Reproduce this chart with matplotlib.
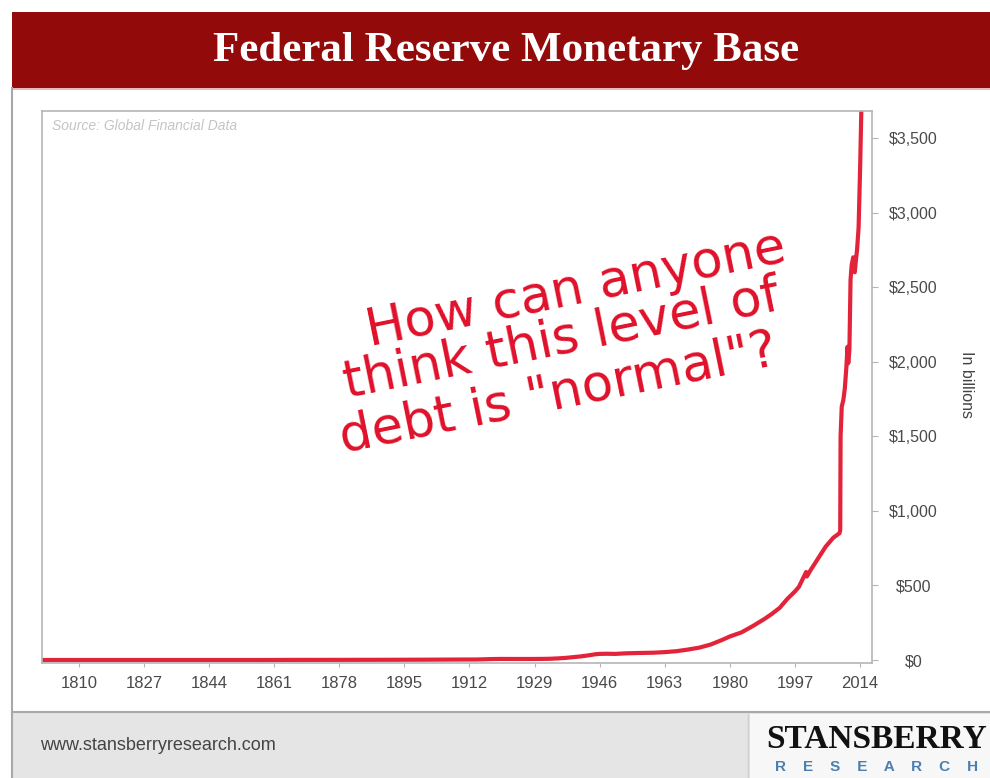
import numpy as np
import matplotlib
matplotlib.use("Agg")
import matplotlib.pyplot as plt
from matplotlib.patches import Rectangle

# Monetary base, billions of dollars
years = [1800, 1815, 1830, 1845, 1860, 1865, 1875, 1890, 1900, 1910, 1914, 1918,
         1920, 1925, 1929, 1931, 1933, 1935, 1937, 1939, 1941, 1943, 1945, 1946,
         1948, 1950, 1953, 1956, 1960, 1963, 1966, 1969, 1972, 1975, 1978, 1980,
         1983, 1986, 1989, 1991, 1993, 1995, 1997, 1998, 1999.9, 2000.1, 2001,
         2003, 2005, 2007, 2008.6, 2008.8, 2008.9, 2009.2, 2009.6, 2010.0, 2010.4,
         2010.7, 2010.9, 2011.2, 2011.5, 2011.8, 2012.2, 2012.6, 2012.9, 2013.2,
         2013.6, 2014.0, 2014.3]
base = [0.02, 0.05, 0.08, 0.1, 0.2, 0.8, 1.0, 1.5, 2.2, 3.3, 3.6, 6.5,
        7.2, 7.0, 7.1, 7.5, 8.4, 10.7, 14, 19, 24, 31, 39, 41,
        42, 41, 45, 47, 49, 53, 59, 70, 83, 104, 135, 158,
        185, 228, 275, 310, 350, 410, 460, 490, 590, 560, 600,
        680, 760, 820, 850, 870, 1500, 1700, 1740, 1820, 1960,
        2100, 1990, 2080, 2550, 2650, 2700, 2600, 2680, 2750,
        2900, 3300, 3670]

x_ticks = [1810, 1827, 1844, 1861, 1878, 1895, 1912, 1929, 1946, 1963, 1980, 1997, 2014]
y_ticks = [0, 500, 1000, 1500, 2000, 2500, 3000, 3500]
y_labels = ["$0", "$500", "$1,000", "$1,500", "$2,000", "$2,500", "$3,000", "$3,500"]

W, H = 990, 778
fig = plt.figure(figsize=(W / 100, H / 100), dpi=100)
fig.patch.set_facecolor("white")


def px(x0, y0, x1, y1):
    # pixel box (top-left origin) -> figure fraction rect
    return (x0 / W, 1 - y1 / H, (x1 - x0) / W, (y1 - y0) / H)


def add_rect(x0, y0, x1, y1, **kw):
    l, b, w, h = px(x0, y0, x1, y1)
    fig.patches.append(Rectangle((l, b), w, h, transform=fig.transFigure, **kw))


# banner, footer and card frame
add_rect(12, 12, 992, 88, facecolor="#930a0a", edgecolor="none")
add_rect(12, 88, 992, 90, facecolor="#e9b8b8", edgecolor="none")
add_rect(12, 712, 992, 780, facecolor="#e5e5e5", edgecolor="none")
add_rect(750, 714, 992, 780, facecolor="#f7f7f7", edgecolor="none")
fig.add_artist(plt.Line2D([12 / W, 1], [1 - 712 / H] * 2, color="#a8a8a8", lw=1.5))
fig.add_artist(plt.Line2D([12 / W] * 2, [0, 1 - 88 / H], color="#a8a8a8", lw=1.5))
fig.add_artist(plt.Line2D([748 / W] * 2, [0, 1 - 714 / H], color="#cfcfcf", lw=1))

fig.text(506 / W, 1 - 51 / H, "Federal Reserve Monetary Base", color="white",
         fontsize=31, fontweight="bold", family="Liberation Serif",
         ha="center", va="center")
fig.text(40 / W, 1 - 746 / H, "www.stansberryresearch.com", color="#444444",
         fontsize=13, family="Liberation Sans", ha="left", va="center")
fig.text(877 / W, 1 - 739 / H, "STANSBERRY", color="#111111", fontsize=24,
         fontweight="bold", family="Liberation Serif", ha="center", va="center")
fig.text(877 / W, 1 - 767 / H, "R    E    S    E    A    R    C    H",
         color="#4a7fb0", fontsize=11, fontweight="bold",
         family="Liberation Sans", ha="center", va="center")

# main axes
ax = fig.add_axes(px(42, 111, 872, 663))
ax.plot(years, base, color="#e3233a", lw=3, solid_joinstyle="round")
ax.set_xlim(1800.4, 2017.1)
ax.set_ylim(-20, 3681)

for s in ax.spines.values():
    s.set_color("#b5b5b5")
    s.set_linewidth(1.2)

ax.yaxis.tick_right()
ax.set_yticks(y_ticks)
ax.set_yticklabels(y_labels)
ax.tick_params(axis="y", colors="#b5b5b5", labelcolor="#4a4a4a", length=4,
               pad=26, labelsize=11.5)
for t in ax.get_yticklabels():
    t.set_ha("center")
    t.set_family("Liberation Sans")

ax.set_xticks(x_ticks)
ax.tick_params(axis="x", colors="#b5b5b5", labelcolor="#4a4a4a", length=3,
               pad=6, labelsize=12)
for t in ax.get_xticklabels():
    t.set_family("Liberation Sans")

fig.text(966 / W, 1 - 385 / H, "In billions", rotation=-90, color="#444444",
         fontsize=11.5, family="Liberation Sans", ha="center", va="center")

ax.text(0.012, 0.985, "Source: Global Financial Data", transform=ax.transAxes,
        fontsize=10, style="italic", color="#c4c4c4", family="Liberation Sans",
        ha="left", va="top")

# handwritten note
note = ["How can anyone", "think this level of", 'debt is "normal"?']
centers = [(576, 290), (562, 340), (558, 394)]
for line, (cx, cy) in zip(note, centers):
    fig.text(cx / W, 1 - cy / H, line, color="#e0102a", fontsize=37,
             family="DejaVu Sans", rotation=11.5, rotation_mode="anchor",
             ha="center", va="center")

fig.savefig("out.png", dpi=100)
